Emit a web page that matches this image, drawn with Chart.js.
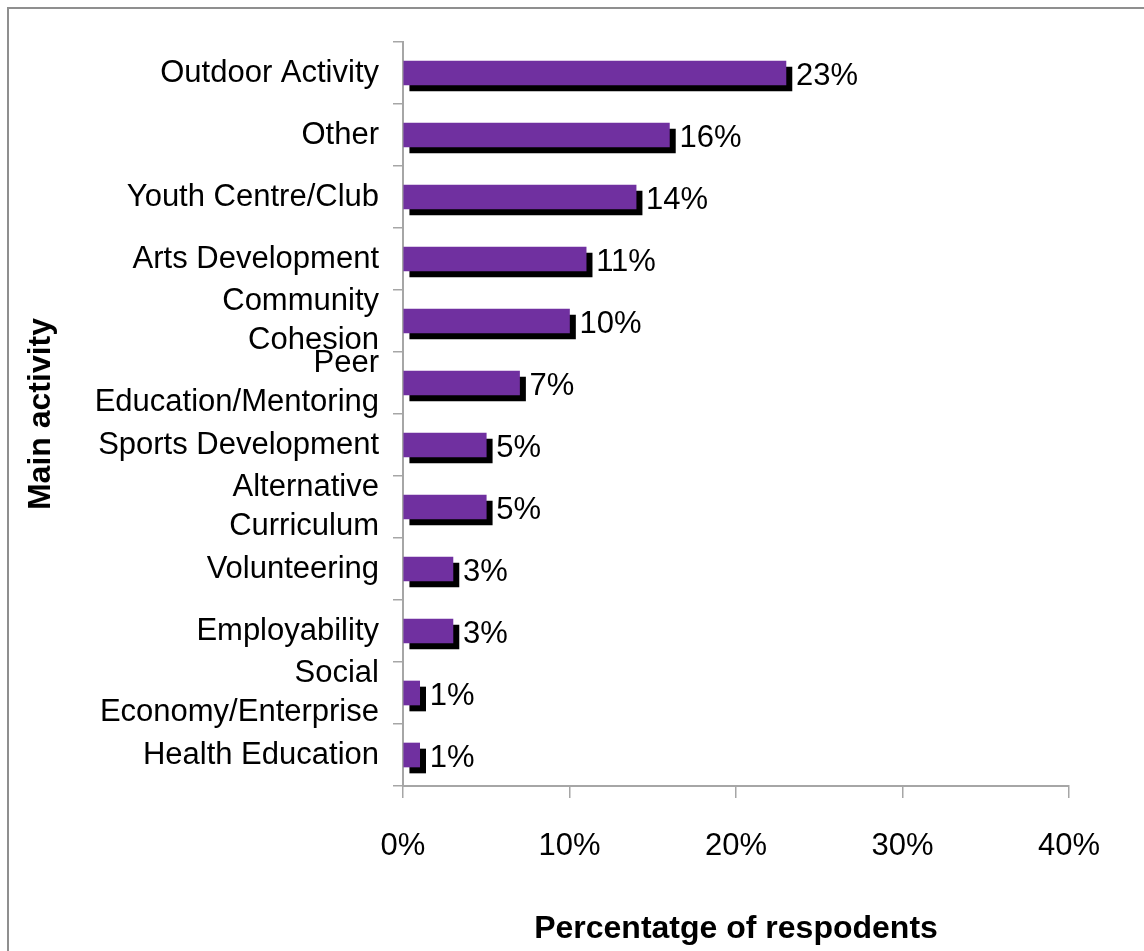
<!DOCTYPE html>
<html>
<head>
<meta charset="utf-8">
<title>Main activity</title>
<script src="https://cdn.jsdelivr.net/npm/chart.js@4.4.0/dist/chart.umd.min.js"></script>
<style>
  html, body { margin: 0; padding: 0; background: #fff; overflow: hidden; }
  .frame { position: absolute; left: 7px; top: 7px; width: 1300px; height: 1100px; border: 2px solid #8f8f8f; }
  .chart-box { position: absolute; left: 0; top: 0; width: 1144px; height: 951px; }
</style>
</head>
<body>
<div class="frame"></div>
<div class="chart-box"><canvas id="activityChart" width="1144" height="951"></canvas></div>
<script>
// Main activity of respondents, share in percent
const activities = [
    'Outdoor Activity',
    'Other',
    'Youth Centre/Club',
    'Arts Development',
    ['Community', 'Cohesion'],
    ['Peer', 'Education/Mentoring'],
    'Sports Development',
    ['Alternative', 'Curriculum'],
    'Volunteering',
    'Employability',
    ['Social', 'Economy/Enterprise'],
    'Health Education'
];
const percentages = [23, 16, 14, 11, 10, 7, 5, 5, 3, 3, 1, 1];
const axisMax = 40;
const axisStep = 10;

const FONT = '"Liberation Sans", Arial, sans-serif';
const AXIS_GREY = '#a6a6a6';

// black drop shadow under each bar
const barShadow = {
    id: 'barShadow',
    beforeDatasetDraw(chart) {
        const ctx = chart.ctx;
        ctx.save();
        ctx.shadowColor = '#000';
        ctx.shadowBlur = 0;
        ctx.shadowOffsetX = 6;
        ctx.shadowOffsetY = 6;
    },
    afterDatasetDraw(chart) {
        chart.ctx.restore();
    }
};

// "23%" style labels to the right of the bars
const valueLabels = {
    id: 'valueLabels',
    afterDatasetsDraw(chart) {
        const ctx = chart.ctx;
        const meta = chart.getDatasetMeta(0);
        ctx.save();
        ctx.font = '31px ' + FONT;
        ctx.fillStyle = '#000';
        ctx.textAlign = 'left';
        ctx.textBaseline = 'middle';
        meta.data.forEach((bar, i) => {
            ctx.fillText(percentages[i] + '%', bar.x + 10, bar.y + 3);
        });
        ctx.restore();
    }
};

const ctx = document.getElementById('activityChart').getContext('2d');
const chart = new Chart(ctx, {
    type: 'bar',
    data: {
        labels: activities,
        datasets: [{
            data: percentages,
            backgroundColor: '#7030a0',
            borderWidth: 0,
            barThickness: 24
        }]
    },
    options: {
        indexAxis: 'y',
        responsive: false,
        animation: false,
        layout: {
            padding: { left: 0, right: 75, top: 42, bottom: 0 }
        },
        plugins: {
            legend: { display: false },
            tooltip: { enabled: false }
        },
        scales: {
            x: {
                min: 0,
                max: axisMax,
                grid: {
                    drawOnChartArea: false,
                    tickLength: 12,
                    color: AXIS_GREY,
                    lineWidth: 1.5
                },
                border: { color: AXIS_GREY, width: 2 },
                ticks: {
                    stepSize: axisStep,
                    maxRotation: 0,
                    padding: 30,
                    color: '#000',
                    font: { family: FONT, size: 31 },
                    callback: value => value + '%'
                },
                title: {
                    display: true,
                    text: 'Percentatge of respodents',
                    color: '#000',
                    font: { family: FONT, size: 32, weight: 'bold' },
                    padding: { top: 0, bottom: 3 }
                },
                afterFit(scale) {
                    scale.height = 165;
                }
            },
            y: {
                grid: {
                    drawOnChartArea: false,
                    offset: true,
                    tickLength: 10,
                    color: AXIS_GREY,
                    lineWidth: 1.5
                },
                border: { color: AXIS_GREY, width: 2 },
                ticks: {
                    autoSkip: false,
                    padding: 14,
                    color: '#000',
                    font: { family: FONT, size: 31, lineHeight: 1.25 }
                },
                title: {
                    display: true,
                    text: 'Main activity',
                    color: '#000',
                    font: { family: FONT, size: 32, weight: 'bold' },
                    padding: { top: 22, bottom: 0 }
                },
                afterFit(scale) {
                    scale.width = 403;
                }
            }
        }
    },
    plugins: [barShadow, valueLabels]
});
</script>
</body>
</html>
